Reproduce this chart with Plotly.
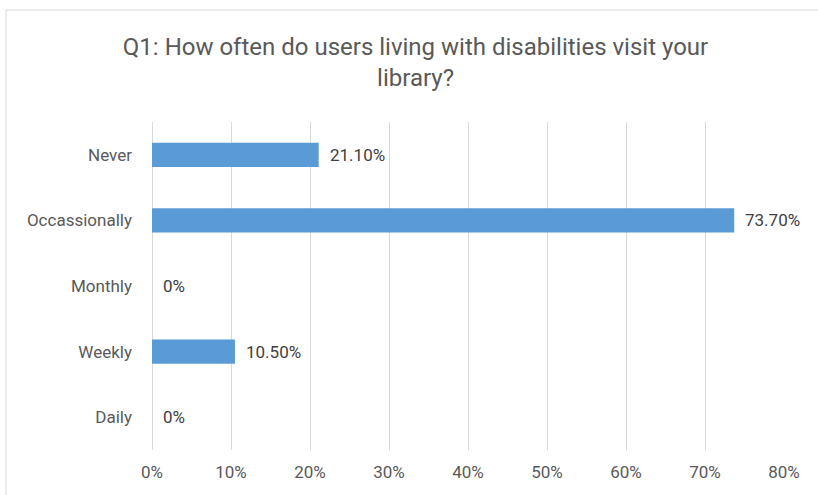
import plotly.graph_objects as go

categories = ["Never", "Occassionally", "Monthly", "Weekly", "Daily"]
values = [21.1, 73.7, 0, 10.5, 0]
labels = [f"{v:.2f}%" if v else "0%" for v in values]
x_ticks = [0, 10, 20, 30, 40, 50, 60, 70, 80]
x_ticklabels = [f"{t}%" for t in x_ticks]

FONT = "Roboto, sans-serif"

fig = go.Figure(go.Bar(
    y=categories, x=values, orientation="h",
    marker=dict(color="#5b9bd5", line=dict(width=0)),
    width=0.37, cliponaxis=False,
))

for c, v, t in zip(categories, values, labels):
    fig.add_annotation(x=v, y=c, text=t, showarrow=False, xanchor="left",
                       xshift=9, font=dict(family=FONT, size=17, color="#404040"))

fig.update_layout(
    width=818, height=495,
    margin=dict(l=152, r=34, t=122, b=45),
    paper_bgcolor="white", plot_bgcolor="white",
    showlegend=False,
    title=dict(text="Q1: How often do users living with disabilities visit your<br>library?",
               x=0.508, xanchor="center", y=1 - 55 / 495, yanchor="middle",
               font=dict(family=FONT, size=24, color="#595959")),
    xaxis=dict(range=[0, 80], tickvals=x_ticks, ticktext=x_ticklabels,
               showgrid=True, gridcolor="#d9d9d9", gridwidth=1,
               zeroline=True, zerolinecolor="#d9d9d9", zerolinewidth=1,
               showline=False, ticks="", ticklabelstandoff=10,
               tickfont=dict(family=FONT, size=17, color="#595959"),
               fixedrange=True),
    yaxis=dict(categoryorder="array", categoryarray=categories, autorange="reversed",
               showgrid=False, zeroline=False, showline=False, ticks="",
               ticklabelstandoff=19,
               tickfont=dict(family=FONT, size=17, color="#595959")),
    shapes=[dict(type="rect", xref="paper", yref="paper",
                 x0=(6 - 152) / 632, x1=1.2, y0=-0.3, y1=(450 - 10) / 328,
                 line=dict(color="#d9d9d9", width=1), fillcolor="rgba(0,0,0,0)",
                 layer="below")],
)

fig.write_html("out.html", config={"displayModeBar": False},
               post_script="document.body.style.margin='0';")
